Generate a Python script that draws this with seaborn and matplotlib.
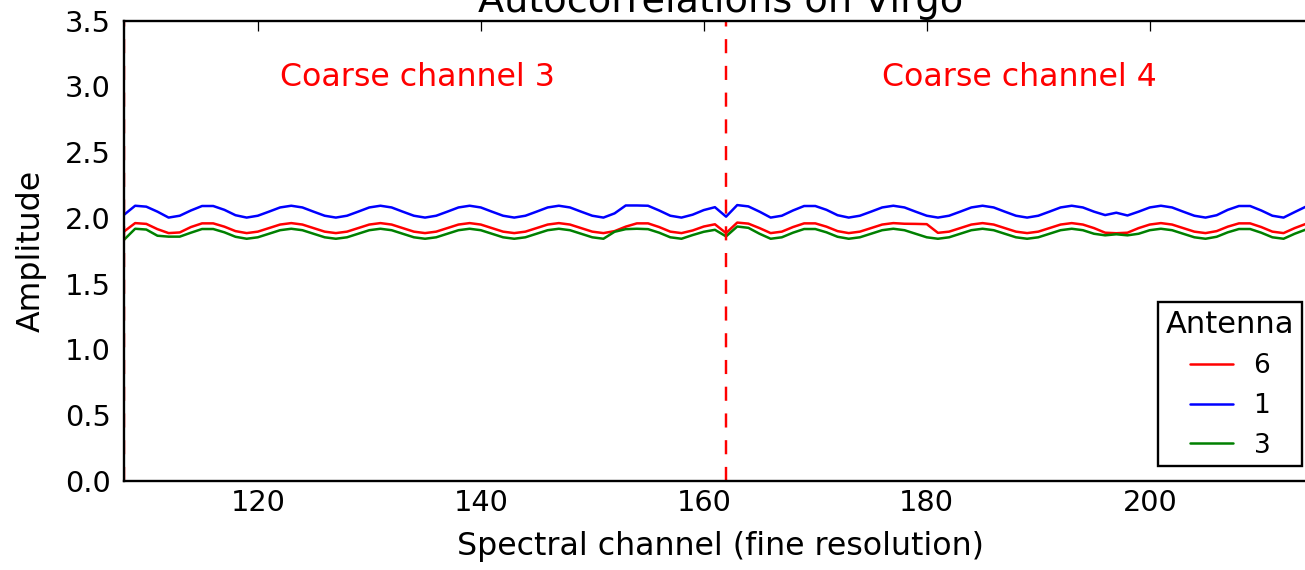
import matplotlib
matplotlib.use("Agg")
import matplotlib.pyplot as plt
import pandas as pd
import seaborn as sns

# Fine-resolution spectral channels covering coarse channels 3 and 4
channels = list(range(108, 216))
coarse_edges = [108, 162]
coarse_labels = ["Coarse channel 3", "Coarse channel 4"]
label_x = [122, 176]
label_y = 3.0

antennas = ["6", "1", "3"]
line_colors = ["#ff0000", "#0000ff", "#008000"]

# Autocorrelation amplitude per fine channel
ant6 = [
    1.897, 1.961, 1.955, 1.915, 1.885, 1.890, 1.931, 1.959, 1.959, 1.934,
    1.900, 1.885, 1.896, 1.923, 1.950, 1.961, 1.950, 1.923, 1.896, 1.885,
    1.896, 1.923, 1.950, 1.961, 1.950, 1.923, 1.896, 1.885, 1.896, 1.923,
    1.950, 1.961, 1.950, 1.923, 1.896, 1.885, 1.896, 1.923, 1.950, 1.961,
    1.950, 1.923, 1.896, 1.885, 1.900, 1.934, 1.959, 1.959, 1.931, 1.896,
    1.885, 1.905, 1.935, 1.952, 1.885, 1.965, 1.957, 1.923, 1.885, 1.896,
    1.931, 1.959, 1.959, 1.934, 1.900, 1.885, 1.896, 1.923, 1.950, 1.961,
    1.956, 1.955, 1.953, 1.887, 1.896, 1.923, 1.950, 1.961, 1.950, 1.923,
    1.896, 1.885, 1.896, 1.923, 1.950, 1.961, 1.950, 1.923, 1.888, 1.884,
    1.888, 1.923, 1.950, 1.961, 1.950, 1.923, 1.896, 1.885, 1.900, 1.934,
    1.959, 1.959, 1.931, 1.896, 1.885, 1.923, 1.955, 1.961,
]
ant1 = [
    2.024, 2.093, 2.086, 2.048, 2.003, 2.017, 2.057, 2.091, 2.091, 2.062,
    2.021, 2.003, 2.017, 2.048, 2.080, 2.093, 2.080, 2.048, 2.017, 2.003,
    2.017, 2.048, 2.080, 2.093, 2.080, 2.048, 2.017, 2.003, 2.017, 2.048,
    2.080, 2.093, 2.080, 2.048, 2.017, 2.003, 2.017, 2.048, 2.080, 2.093,
    2.080, 2.048, 2.017, 2.003, 2.035, 2.095, 2.095, 2.093, 2.057, 2.017,
    2.003, 2.025, 2.060, 2.082, 2.010, 2.098, 2.088, 2.048, 2.003, 2.017,
    2.057, 2.091, 2.091, 2.062, 2.021, 2.003, 2.017, 2.048, 2.080, 2.093,
    2.080, 2.048, 2.017, 2.003, 2.017, 2.048, 2.080, 2.093, 2.080, 2.048,
    2.017, 2.003, 2.017, 2.048, 2.080, 2.093, 2.080, 2.048, 2.022, 2.040,
    2.019, 2.048, 2.080, 2.093, 2.080, 2.048, 2.017, 2.003, 2.021, 2.062,
    2.091, 2.091, 2.057, 2.017, 2.003, 2.045, 2.086, 2.093,
]
ant3 = [
    1.834, 1.918, 1.912, 1.865, 1.858, 1.858, 1.888, 1.916, 1.916, 1.891,
    1.857, 1.842, 1.853, 1.880, 1.907, 1.918, 1.907, 1.880, 1.853, 1.842,
    1.853, 1.880, 1.907, 1.918, 1.907, 1.880, 1.853, 1.842, 1.853, 1.880,
    1.907, 1.918, 1.907, 1.880, 1.853, 1.842, 1.853, 1.880, 1.907, 1.918,
    1.907, 1.880, 1.853, 1.842, 1.895, 1.915, 1.918, 1.915, 1.888, 1.853,
    1.842, 1.870, 1.895, 1.910, 1.860, 1.935, 1.925, 1.880, 1.842, 1.853,
    1.888, 1.916, 1.916, 1.891, 1.857, 1.842, 1.853, 1.880, 1.907, 1.918,
    1.907, 1.880, 1.853, 1.842, 1.853, 1.880, 1.907, 1.918, 1.907, 1.880,
    1.853, 1.842, 1.853, 1.880, 1.907, 1.918, 1.907, 1.880, 1.868, 1.876,
    1.868, 1.880, 1.907, 1.918, 1.907, 1.880, 1.853, 1.842, 1.857, 1.891,
    1.916, 1.916, 1.888, 1.853, 1.842, 1.880, 1.912, 1.918,
]

series = {"6": ant6, "1": ant1, "3": ant3}
frames = [
    pd.DataFrame({"channel": channels, "amplitude": series[a], "antenna": a})
    for a in antennas
]
df = pd.concat(frames, ignore_index=True)

sns.set_style("white")
plt.rcParams["font.family"] = ["DejaVu Sans"]
plt.rcParams["text.color"] = "black"
plt.rcParams["axes.labelcolor"] = "black"
plt.rcParams["xtick.color"] = "black"
plt.rcParams["ytick.color"] = "black"

fig = plt.figure(figsize=(13.05, 5.7), dpi=100)
ax = fig.add_axes([124 / 1305, 1 - 481 / 570, (1317 - 124) / 1305, (481 - 20.7) / 570])

sns.lineplot(
    data=df, x="channel", y="amplitude", hue="antenna",
    hue_order=antennas, palette=dict(zip(antennas, line_colors)),
    estimator=None, linewidth=1.8, ax=ax,
)

# Coarse channel boundaries and their labels
for edge in coarse_edges:
    ax.axvline(edge, color="#ff0000", linestyle="--", linewidth=1.75, dashes=(5.8, 5.2))
for x, text in zip(label_x, coarse_labels):
    ax.text(x, label_y, text, color="#ff0000", fontsize=22.8)

ax.set_xlim(108, 215)
ax.set_ylim(0, 3.5)
ax.set_yticks([0.0, 0.5, 1.0, 1.5, 2.0, 2.5, 3.0, 3.5])
ax.set_xticks([120, 140, 160, 180, 200])

for spine in ax.spines.values():
    spine.set_visible(True)
    spine.set_color("black")
    spine.set_linewidth(1.7)

ax.tick_params(direction="in", top=True, right=True, length=7, width=0.9,
               labelsize=20.7, colors="black")
ax.tick_params(axis="x", pad=6)
ax.tick_params(axis="y", pad=9.5)

ax.set_xlabel("Spectral channel (fine resolution)", fontsize=22.8, labelpad=10)
ax.set_ylabel("Amplitude", fontsize=22.8, labelpad=13)
ax.set_title("Autocorrelations on Virgo", fontsize=27.5, pad=6, color="black")

old = ax.get_legend()
handles = old.legend_handles
labels = [t.get_text() for t in old.get_texts()]
old.remove()
leg = ax.legend(
    handles, labels, title="Antenna", loc="lower right",
    fontsize=19, title_fontsize=22, frameon=True, fancybox=False,
    edgecolor="black", framealpha=1, borderaxespad=0.55,
    handlelength=1.6, labelspacing=0.52, borderpad=0.3,
)
leg.get_frame().set_linewidth(1.7)
leg.get_title().set_color("black")
for t in leg.get_texts():
    t.set_color("black")
for h in leg.legend_handles:
    h.set_linewidth(1.8)

fig.savefig("out.png", dpi=100)
